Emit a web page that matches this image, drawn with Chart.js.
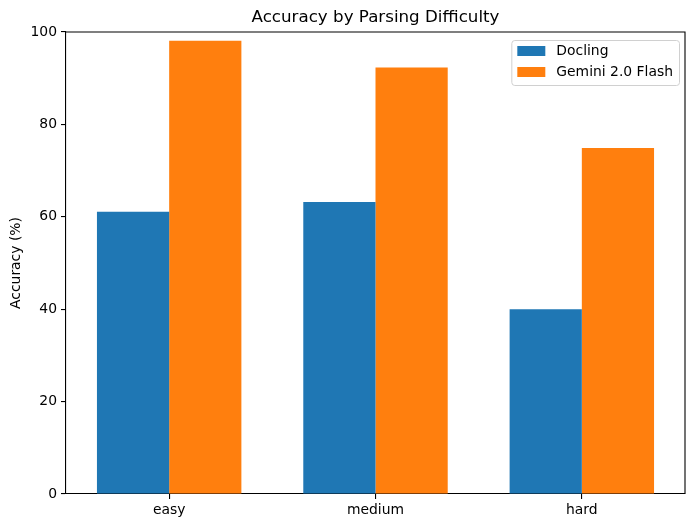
<!DOCTYPE html>
<html>
<head>
<meta charset="utf-8">
<script src="https://cdn.jsdelivr.net/npm/chart.js@4/dist/chart.umd.min.js"></script>
<style>
  html, body { margin: 0; padding: 0; background: #fff; }
  #wrap { width: 695px; height: 528px; }
</style>
</head>
<body>
<div id="wrap"><canvas id="chart" width="695" height="528"></canvas></div>
<script>
const difficulties = ["easy", "medium", "hard"];
const doclingAcc = [61.1, 63.2, 40.0];
const geminiAcc = [98.1, 92.3, 74.9];
const seriesNames = ["Docling", "Gemini 2.0 Flash"];
const yTicks = [0, 20, 40, 60, 80, 100];

const FONT = "'DejaVu Sans', sans-serif";

// top/right spines + title
const framePlugin = {
  id: "frame",
  afterDraw(chart) {
    const { ctx, chartArea: a } = chart;
    ctx.save();
    ctx.strokeStyle = "#000";
    ctx.lineWidth = 1.1;
    ctx.beginPath();
    ctx.moveTo(a.left, a.top);
    ctx.lineTo(a.right, a.top);
    ctx.lineTo(a.right, a.bottom);
    ctx.stroke();

    ctx.fillStyle = "#000";
    ctx.font = "16.7px " + FONT;
    ctx.textAlign = "center";
    ctx.textBaseline = "middle";
    ctx.fillText("Accuracy by Parsing Difficulty", (a.left + a.right) / 2, 18);
    ctx.restore();
  },
};

// matplotlib-like legend in upper right of the axes
const legendPlugin = {
  id: "mplLegend",
  afterDraw(chart) {
    const { ctx, chartArea: a } = chart;
    const ds = chart.data.datasets;
    ctx.save();
    ctx.font = "13.9px " + FONT;
    let maxW = 0;
    ds.forEach((d) => { maxW = Math.max(maxW, ctx.measureText(d.label).width); });
    const w = 6 + 28 + 11 + maxW + 6;
    const h = 45;
    const x = a.right - 6 - w;
    const y = a.top + 8;
    ctx.fillStyle = "rgba(255,255,255,0.8)";
    ctx.strokeStyle = "#d0d0d0";
    ctx.lineWidth = 1;
    ctx.beginPath();
    ctx.roundRect(x + 0.5, y + 0.5, w, h, 3);
    ctx.fill();
    ctx.stroke();
    ds.forEach((d, i) => {
      const ry = y + 6 + i * 21;
      ctx.fillStyle = d.backgroundColor;
      ctx.fillRect(x + 6, ry, 28, 10);
      ctx.fillStyle = "#000";
      ctx.textAlign = "left";
      ctx.textBaseline = "middle";
      ctx.fillText(d.label, x + 45, ry + 5);
    });
    ctx.restore();
  },
};

new Chart(document.getElementById("chart"), {
  type: "bar",
  data: {
    labels: difficulties,
    datasets: [
      { label: seriesNames[0], data: doclingAcc, backgroundColor: "#1f77b4" },
      { label: seriesNames[1], data: geminiAcc, backgroundColor: "#ff7f0e" },
    ],
  },
  options: {
    responsive: false,
    animation: false,
    layout: { padding: { top: 32, right: 10, bottom: 0, left: 0 } },
    datasets: { bar: { categoryPercentage: 0.7, barPercentage: 1.0 } },
    plugins: {
      legend: { display: false },
      title: { display: false },
      tooltip: { enabled: false },
    },
    scales: {
      x: {
        offset: true,
        grid: { display: true, offset: false, drawOnChartArea: false, drawTicks: true, tickLength: 5, color: "#000", lineWidth: 1.1 },
        border: { display: true, color: "#000", width: 1.1 },
        ticks: { color: "#000", font: { family: FONT, size: 13.9 }, padding: 3, maxRotation: 0 },
        afterFit: (scale) => { scale.height = 34; },
      },
      y: {
        min: 0,
        max: 100,
        afterBuildTicks: (scale) => { scale.ticks = yTicks.map((v) => ({ value: v })); },
        grid: { display: true, drawOnChartArea: false, drawTicks: true, tickLength: 5, color: "#000", lineWidth: 1.1 },
        border: { display: true, color: "#000", width: 1.1 },
        ticks: { color: "#000", font: { family: FONT, size: 13.9 }, padding: 4 },
        title: { display: true, text: "Accuracy (%)", color: "#000", font: { family: FONT, size: 13.9 }, padding: { top: 8, bottom: 4 } },
        afterFit: (scale) => { scale.width = 66; },
      },
    },
  },
  plugins: [framePlugin, legendPlugin],
});
</script>
</body>
</html>
